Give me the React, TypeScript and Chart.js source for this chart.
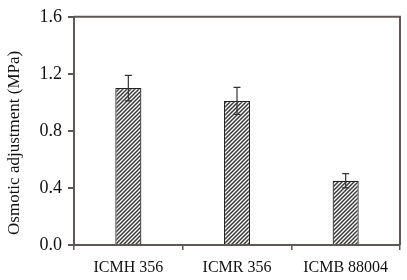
import React, { useEffect, useRef } from "react";
import { Chart, registerables } from "chart.js";

Chart.register(...registerables);

const categories = ["ICMH 356", "ICMR 356", "ICMB 88004"];
const values = [1.1, 1.01, 0.45];
const errors = [0.09, 0.095, 0.05];
const yTicks = [0, 0.4, 0.8, 1.2, 1.6];
const yTitle = "Osmotic adjustment (MPa)";

const AXIS = "#5e5753";
const FONT = "'Liberation Serif', 'Times New Roman', serif";

function makePattern(): CanvasPattern | string {
  const c = document.createElement("canvas");
  const s = 4;
  c.width = s;
  c.height = s;
  const ctx = c.getContext("2d");
  if (!ctx) return "#888";
  ctx.fillStyle = "#ffffff";
  ctx.fillRect(0, 0, s, s);
  ctx.strokeStyle = "#3a3a3a";
  ctx.lineWidth = 1.5;
  ctx.beginPath();
  ctx.moveTo(-1, s + 1);
  ctx.lineTo(s + 1, -1);
  ctx.moveTo(-1, 1);
  ctx.lineTo(1, -1);
  ctx.moveTo(s - 1, s + 1);
  ctx.lineTo(s + 1, s - 1);
  ctx.stroke();
  const p = ctx.createPattern(c, "repeat");
  return p || "#888";
}

const errorBarPlugin = {
  id: "errorBars",
  afterDatasetsDraw(chart: any) {
    const ctx = chart.ctx;
    const meta = chart.getDatasetMeta(0);
    const y = chart.scales.y;
    ctx.save();
    ctx.strokeStyle = "#333";
    ctx.lineWidth = 1.2;
    meta.data.forEach((bar: any, i: number) => {
      const x = bar.x;
      const top = y.getPixelForValue(values[i] + errors[i]);
      const bot = y.getPixelForValue(values[i] - errors[i]);
      ctx.beginPath();
      ctx.moveTo(x, top);
      ctx.lineTo(x, bot);
      ctx.moveTo(x - 3.5, top);
      ctx.lineTo(x + 3.5, top);
      ctx.moveTo(x - 3.5, bot);
      ctx.lineTo(x + 3.5, bot);
      ctx.stroke();
    });
    ctx.restore();
  },
};

const framePlugin = {
  id: "frame",
  afterDraw(chart: any) {
    const { ctx, chartArea } = chart;
    ctx.save();
    ctx.strokeStyle = AXIS;
    ctx.lineWidth = 2;
    ctx.beginPath();
    ctx.moveTo(chartArea.left, chartArea.top);
    ctx.lineTo(chartArea.right, chartArea.top);
    ctx.lineTo(chartArea.right, chartArea.bottom);
    ctx.stroke();
    // y-axis title
    const cy = (chartArea.top + chartArea.bottom) / 2 + 12;
    ctx.translate(15, cy);
    ctx.rotate(-Math.PI / 2);
    ctx.fillStyle = "#111";
    ctx.font = `17px ${FONT}`;
    ctx.textAlign = "center";
    ctx.textBaseline = "middle";
    ctx.fillText(yTitle, 0, 0);
    ctx.restore();
  },
};

export default function App() {
  const ref = useRef<HTMLCanvasElement>(null);
  useEffect(() => {
    if (!ref.current) return;
    const chart = new Chart(ref.current, {
      type: "bar",
      data: {
        labels: categories,
        datasets: [
          {
            data: values,
            backgroundColor: makePattern() as any,
            borderColor: "#222",
            borderWidth: 1.2,
            barPercentage: 0.24,
            categoryPercentage: 1,
          },
        ],
      },
      options: {
        animation: false,
        responsive: false,
        maintainAspectRatio: false,
        layout: { padding: { left: 0, right: 7, top: 12, bottom: 0 } },
        plugins: {
          legend: { display: false },
          tooltip: { enabled: false },
        },
        scales: {
          x: {
            grid: {
              display: true,
              drawOnChartArea: false,
              offset: true,
              tickLength: 5,
              color: AXIS,
              lineWidth: 1.5,
            },
            border: { color: AXIS, width: 2 },
            ticks: {
              color: "#111",
              font: { family: FONT, size: 16 },
              padding: 8,
            },
            afterFit: (s: any) => {
              s.height = 35;
            },
          },
          y: {
            min: 0,
            max: 1.6,
            afterBuildTicks: (s: any) => {
              s.ticks = yTicks.map((v) => ({ value: v }));
            },
            grid: {
              display: true,
              drawOnChartArea: false,
              tickLength: 6,
              color: AXIS,
              lineWidth: 2,
            },
            border: { color: AXIS, width: 2 },
            ticks: {
              color: "#111",
              font: { family: FONT, size: 18 },
              padding: 6,
              callback: (v: any) => Number(v).toFixed(1),
            },
            afterFit: (s: any) => {
              s.width = 74;
            },
          },
        },
      },
      plugins: [errorBarPlugin, framePlugin],
    });
    return () => chart.destroy();
  }, []);
  return (
    <div style={{ position: "fixed", left: 0, top: 0, width: 407, height: 280, background: "#fff" }}>
      <canvas ref={ref} width={407} height={280} style={{ width: 407, height: 280 }} />
    </div>
  );
}
